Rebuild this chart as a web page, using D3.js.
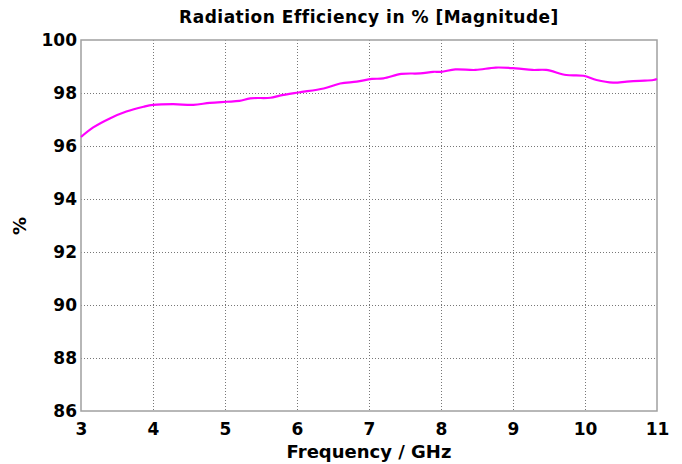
<!DOCTYPE html>
<html><head><meta charset="utf-8">
<script src="https://cdn.jsdelivr.net/npm/d3@7"></script>
<style>body{margin:0;background:#fff;} text{font-family:"DejaVu Sans",Verdana,sans-serif;font-weight:bold;fill:#000;}</style>
</head><body><svg id="c" width="682" height="464"></svg>
<script>
const freq = [3.0,3.17,3.4,3.63,3.87,4.0,4.28,4.56,4.79,5.02,5.2,5.35,5.63,5.76,6.02,6.37,6.6,6.83,7.04,7.2,7.45,7.71,7.89,8.0,8.2,8.48,8.76,9.04,9.27,9.46,9.74,9.98,10.16,10.39,10.58,10.76,10.95,11.0];
const eff  = [96.34,96.7,97.04,97.3,97.48,97.55,97.58,97.55,97.63,97.67,97.7,97.8,97.82,97.9,98.02,98.17,98.36,98.43,98.53,98.55,98.72,98.74,98.8,98.8,98.89,98.87,98.96,98.93,98.87,98.87,98.68,98.65,98.49,98.39,98.43,98.46,98.49,98.53];
const xTicks = [3,4,5,6,7,8,9,10,11];
const yTicks = [86,88,90,92,94,96,98,100];
const title = "Radiation Efficiency in % [Magnitude]";
const xLabel = "Frequency / GHz";
const yLabel = "%";

const svg = d3.select("#c");
const L=81,R=657,T=40,B=411;
const x = d3.scaleLinear().domain([3,11]).range([L,R]);
const y = d3.scaleLinear().domain([86,100]).range([B,T]);

// grid
svg.append("g").selectAll("line").data(xTicks.slice(1,-1)).join("line")
  .attr("x1",d=>x(d)+0.5).attr("x2",d=>x(d)+0.5).attr("y1",T).attr("y2",B)
  .attr("stroke","#777").attr("stroke-dasharray","1,2");
svg.append("g").selectAll("line").data(yTicks.slice(1,-1)).join("line")
  .attr("y1",d=>Math.round(y(d))+0.5).attr("y2",d=>Math.round(y(d))+0.5).attr("x1",L).attr("x2",R)
  .attr("stroke","#777").attr("stroke-dasharray","1,2");

// border
svg.append("rect").attr("x",L).attr("y",T).attr("width",R-L).attr("height",B-T)
  .attr("fill","none").attr("stroke","#a0a0a0").attr("stroke-width",1.5);

// axes
const xa = svg.append("g").attr("transform",`translate(0,${B})`)
  .call(d3.axisBottom(x).tickValues(xTicks).tickSize(0).tickPadding(12));
const ya = svg.append("g").attr("transform",`translate(${L},0)`)
  .call(d3.axisLeft(y).tickValues(yTicks).tickSize(0).tickPadding(4));
[xa,ya].forEach(a=>{a.select(".domain").remove();
  a.selectAll("text").style("font-family","'DejaVu Sans',Verdana,sans-serif").style("font-weight","bold").style("font-size","17px").attr("fill","#000");});

// line
svg.append("path").datum(freq.map((f,i)=>[f,eff[i]]))
  .attr("d",d3.line().x(d=>x(d[0])).y(d=>y(d[1])).curve(d3.curveCatmullRom.alpha(0.5)))
  .attr("fill","none").attr("stroke","#ff00ff").attr("stroke-width",2.2);

svg.append("text").attr("x",(L+R)/2).attr("y",23).attr("text-anchor","middle").style("font-size","17px").style("letter-spacing","0.5px").text(title);
svg.append("text").attr("x",(L+R)/2).attr("y",458).attr("text-anchor","middle").style("font-size","18px").text(xLabel);
svg.append("text").attr("transform","translate(26,226) rotate(-90)").attr("text-anchor","middle").style("font-size","18px").text(yLabel);
</script></body></html>
